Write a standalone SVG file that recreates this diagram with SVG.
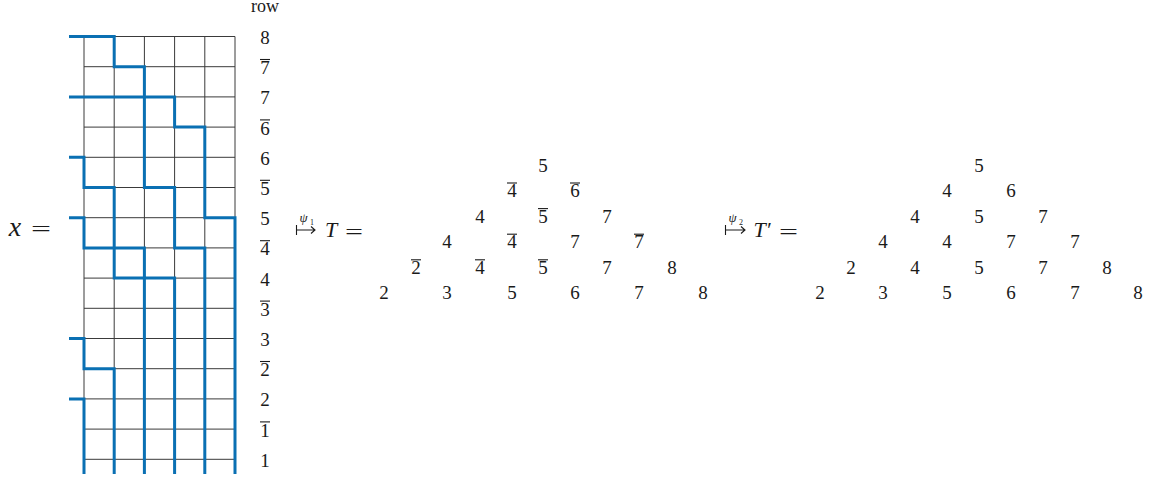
<svg xmlns="http://www.w3.org/2000/svg" width="1149" height="480" viewBox="0 0 1149 480" font-family="'Liberation Serif', 'Times New Roman', serif">
<style>
.g{stroke:#3a3a3a;stroke-width:1;fill:none}
.b{stroke:#0a70b3;stroke-width:3;fill:none;stroke-linejoin:miter;stroke-linecap:butt}
text{font-family:'Liberation Serif','Times New Roman',serif;font-size:19px;fill:#1a1a1a;text-anchor:middle}
.i{font-style:italic}
.eq{text-anchor:start;font-size:20px}
.ob{stroke:#1a1a1a;stroke-width:1.1}
</style>
<rect width="1149" height="480" fill="#fff"/>
<g id="grid">
<path class="g" d="M84,36.5V474M114.2,36.5V474M144.4,36.5V474M174.6,36.5V474M204.8,36.5V474M235,36.5V474"/>
<path class="g" d="M84,36.5H235M84,66.7H235M84,96.9H235M84,127.1H235M84,157.3H235M84,187.5H235M84,217.7H235M84,247.9H235M84,278.1H235M84,308.3H235M84,338.5H235M84,368.7H235M84,398.9H235M84,429.1H235M84,459.3H235"/>
</g>
<g id="connectors">
<path class="b" d="M69,36.5H114.2V66.7H144.4V187.5H174.6V247.9H204.8V474"/>
<path class="b" d="M69,96.9H174.6V127.1H204.8V217.7H235V474"/>
<path class="b" d="M69,157.3H84V187.5H114.2V278.1H144.4V474"/>
<path class="b" d="M69,217.7H84V247.9H144.4V278.1H174.6V474"/>
<path class="b" d="M69,338.5H84V368.7H114.2V474"/>
<path class="b" d="M69,398.9H84V474"/>
</g>
<g id="rowlabels">
<text x="265" y="12" style="font-size:18px">row</text>
<text x="265" y="44">8</text>
<text x="265" y="74.2">7</text><line class="ob" x1="260" x2="270" y1="59.5" y2="59.5"/>
<text x="265" y="104.4">7</text>
<text x="265" y="134.6">6</text><line class="ob" x1="260" x2="270" y1="119.9" y2="119.9"/>
<text x="265" y="164.8">6</text>
<text x="265" y="195">5</text><line class="ob" x1="260" x2="270" y1="180.3" y2="180.3"/>
<text x="265" y="225.2">5</text>
<text x="265" y="255.4">4</text><line class="ob" x1="260" x2="270" y1="240.7" y2="240.7"/>
<text x="265" y="285.6">4</text>
<text x="265" y="315.8">3</text><line class="ob" x1="260" x2="270" y1="301.1" y2="301.1"/>
<text x="265" y="346">3</text>
<text x="265" y="376.2">2</text><line class="ob" x1="260" x2="270" y1="361.5" y2="361.5"/>
<text x="265" y="406.4">2</text>
<text x="265" y="436.6">1</text><line class="ob" x1="260" x2="270" y1="421.9" y2="421.9"/>
<text x="265" y="466.8">1</text>
</g>
<g id="xlabel">
<text x="15" y="236" class="i" style="font-size:28px">x</text>
<text x="31" y="236" class="eq" textLength="20" lengthAdjust="spacingAndGlyphs">=</text>
</g>
<g id="map1">
<text x="303.5" y="222" class="i" style="font-size:13px">ψ</text>
<text x="312" y="225" style="font-size:8px">1</text>
<path class="ob" fill="none" d="M296.5,225V235M297,230H315M311,226.5L315,230L311,233.5"/>
<text x="331" y="237" class="i" style="font-size:22px">T</text>
<text x="345" y="238.5" class="eq" textLength="18" lengthAdjust="spacingAndGlyphs">=</text>
</g>
<g id="T">
<text x="543" y="171.5">5</text>
<text x="512" y="197">4</text><line class="ob" x1="507" x2="517" y1="183" y2="183"/>
<text x="575" y="197">6</text><line class="ob" x1="570" x2="580" y1="183" y2="183"/>
<text x="480" y="222.6">4</text>
<text x="543" y="222.6">5</text><line class="ob" x1="538" x2="548" y1="208.6" y2="208.6"/>
<text x="607" y="222.6">7</text>
<text x="447" y="248.2">4</text>
<text x="512" y="248.2">4</text><line class="ob" x1="507" x2="517" y1="234.2" y2="234.2"/>
<text x="575" y="248.2">7</text>
<text x="639" y="248.2">7</text><line class="ob" x1="634" x2="644" y1="234.2" y2="234.2"/>
<text x="416" y="273.8">2</text><line class="ob" x1="411" x2="421" y1="259.8" y2="259.8"/>
<text x="480" y="273.8">4</text><line class="ob" x1="475" x2="485" y1="259.8" y2="259.8"/>
<text x="543" y="273.8">5</text><line class="ob" x1="538" x2="548" y1="259.8" y2="259.8"/>
<text x="607" y="273.8">7</text>
<text x="672" y="273.8">8</text>
<text x="384" y="299.4">2</text>
<text x="447" y="299.4">3</text>
<text x="512" y="299.4">5</text>
<text x="575" y="299.4">6</text>
<text x="639" y="299.4">7</text>
<text x="703" y="299.4">8</text>
</g>
<g id="map2">
<text x="732.5" y="222" class="i" style="font-size:13px">ψ</text>
<text x="741" y="225" style="font-size:8px">2</text>
<path class="ob" fill="none" d="M725.5,225V235M726,230H745M741,226.5L745,230L741,233.5"/>
<text x="762" y="237" class="i" style="font-size:22px">T′</text>
<text x="779" y="238.5" class="eq" textLength="19" lengthAdjust="spacingAndGlyphs">=</text>
</g>
<g id="Tprime">
<text x="979" y="171.5">5</text>
<text x="947" y="197">4</text>
<text x="1011" y="197">6</text>
<text x="915" y="222.6">4</text>
<text x="979" y="222.6">5</text>
<text x="1043" y="222.6">7</text>
<text x="883" y="248.2">4</text>
<text x="947" y="248.2">4</text>
<text x="1011" y="248.2">7</text>
<text x="1075" y="248.2">7</text>
<text x="851" y="273.8">2</text>
<text x="915" y="273.8">4</text>
<text x="979" y="273.8">5</text>
<text x="1043" y="273.8">7</text>
<text x="1107" y="273.8">8</text>
<text x="820" y="299.4">2</text>
<text x="883" y="299.4">3</text>
<text x="947" y="299.4">5</text>
<text x="1011" y="299.4">6</text>
<text x="1075" y="299.4">7</text>
<text x="1138" y="299.4">8</text>
</g>
</svg>
